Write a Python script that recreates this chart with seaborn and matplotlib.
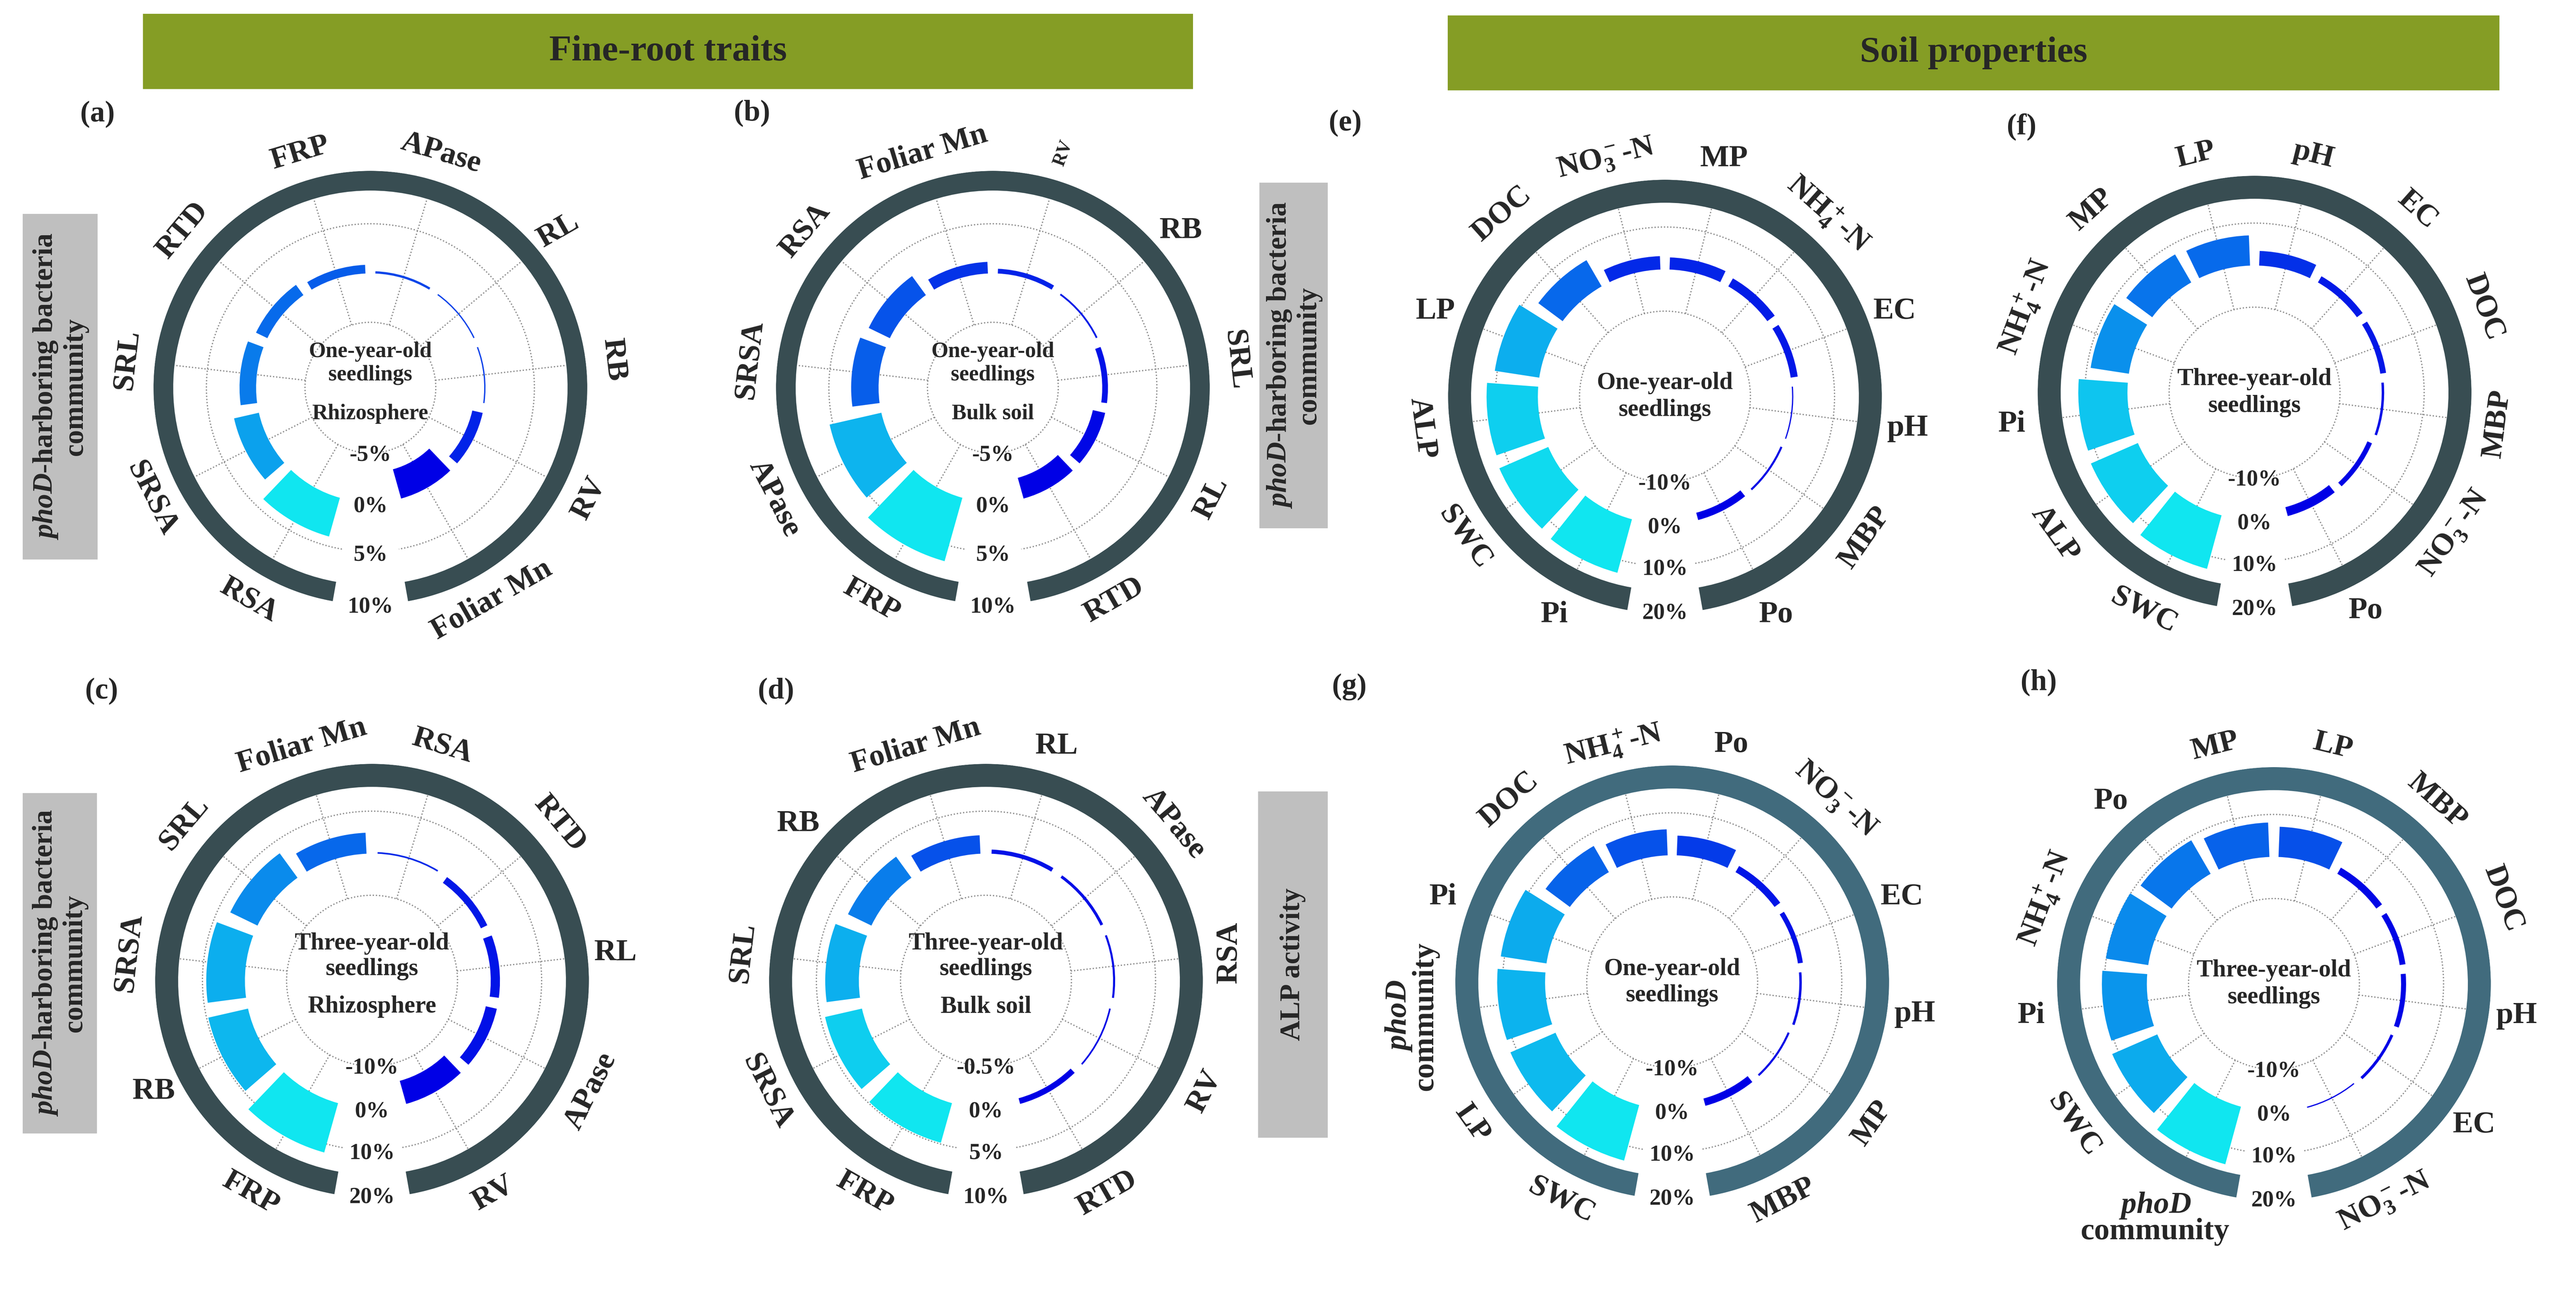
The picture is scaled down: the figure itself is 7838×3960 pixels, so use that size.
import numpy as np
import matplotlib
matplotlib.use("Agg")
import matplotlib.pyplot as plt
from matplotlib.patches import Rectangle
import seaborn as sns

sns.set_style("white")
plt.rcParams["font.family"] = ["Liberation Serif", "DejaVu Serif"]
plt.rcParams["font.weight"] = "bold"
plt.rcParams["mathtext.fontset"] = "custom"
plt.rcParams["mathtext.rm"] = "Liberation Serif:bold"
plt.rcParams["mathtext.it"] = "Liberation Serif:italic:bold"
plt.rcParams["mathtext.bf"] = "Liberation Serif:bold"

NO3 = r"NO$_3^-$-N"
NH4 = r"NH$_4^+$-N"
PHOD = "$phoD$\ncommunity"

# relative changes (%), clockwise from the bottom-left end of each ring
cats_a = ["RSA", "SRSA", "SRL", "RTD", "FRP", "APase", "RL", "RB", "RV", "Foliar Mn"]
vals_a = [4.0, 2.5, 1.6, 1.2, 0.8, 0.15, 0.05, -0.05, -1.0, -3.0]

cats_b = ["FRP", "APase", "SRSA", "RSA", "Foliar Mn", "RV", "RB", "SRL", "RL", "RTD"]
vals_b = [6.6, 5.3, 2.7, 2.3, 1.1, 0.4, 0.1, -0.5, -1.2, -2.1]

cats_c = ["FRP", "RB", "SRSA", "SRL", "Foliar Mn", "RSA", "RTD", "RL", "APase", "RV"]
vals_c = [12.0, 9.5, 9.0, 7.0, 4.8, 0.2, -1.5, -2.0, -2.5, -5.5]

cats_d = ["FRP", "SRSA", "SRL", "RB", "Foliar Mn", "RL", "APase", "RSA", "RV", "RTD"]
vals_d = [4.8, 4.4, 3.9, 3.0, 2.1, 0.4, 0.25, 0.15, -0.1, -0.6]

cats_e = ["Pi", "SWC", "ALP", "LP", "DOC", NO3, "MP", NH4, "EC", "pH", "MBP", "Po"]
vals_e = [13.0, 12.5, 12.0, 10.5, 7.0, 3.0, 2.7, 2.0, 1.5, 0.1, -0.3, -1.6]

cats_f = ["SWC", "ALP", "Pi", NH4, "MP", "LP", "pH", "EC", "DOC", "MBP", NO3, "Po"]
vals_f = [13.0, 12.0, 11.5, 9.0, 7.5, 7.0, 3.3, 1.5, 1.2, 0.4, -1.0, -2.0]

cats_g = ["SWC", "LP", PHOD, "Pi", "DOC", NH4, "Po", NO3, "EC", "pH", "MP", "MBP"]
vals_g = [13.5, 11.5, 11.2, 10.8, 7.0, 6.0, 4.5, 1.5, 1.0, 0.4, -0.3, -1.6]

cats_h = [PHOD, "SWC", "Pi", NH4, "Po", "MP", "LP", "MBP", "DOC", "pH", "EC", NO3]
vals_h = [14.0, 11.5, 10.5, 10.0, 9.0, 8.0, 7.0, 1.5, 1.2, 1.0, 0.5, 0.1]

ticks_root = ["-5%", "0%", "5%", "10%"]
ticks_d = ["-0.5%", "0%", "5%", "10%"]
ticks_soil = ["-10%", "0%", "10%", "20%"]

W, H = 7838, 3960
R = 660
fig = plt.figure(figsize=(W / 500, H / 500), dpi=500)
cmap = sns.blend_palette(["#0000E6", "#10E6F0"], as_cmap=True)
grid_c = "#8C8C8C"
ring_dark = "#384D52"
ring_blue = "#416B7D"

root = dict(k=150, base=349, ring_in=600, fs_c=9.6)
soil = dict(k=128, base=388, ring_in=590, fs_c=10.6)

panels = [
    dict(tag="(a)", tag_xy=(297, 348), xy=(1127, 1180), cats=cats_a, vals=vals_a, step=5, ticks=ticks_root,
         age="One-year-old", site="Rhizosphere", ring=ring_dark, g=root, flat=[], special={"RL": (30, 13.5)}),
    dict(tag="(b)", tag_xy=(2288, 345), xy=(3021, 1180), cats=cats_b, vals=vals_b, step=5, ticks=ticks_root,
         age="One-year-old", site="Bulk soil", ring=ring_dark, g=root, flat=["RB"], special={"RV": (70, 8)}),
    dict(tag="(c)", tag_xy=(309, 2104), xy=(1132, 2985), cats=cats_c, vals=vals_c, step=10, ticks=ticks_soil,
         age="Three-year-old", site="Rhizosphere", ring=ring_dark, g=soil, flat=["RB", "RL"], special={}),
    dict(tag="(d)", tag_xy=(2361, 2104), xy=(3000, 2985), cats=cats_d, vals=vals_d, step=5, ticks=ticks_d,
         age="Three-year-old", site="Bulk soil", ring=ring_dark, g=soil, flat=["RB", "RL"], special={"RSA": (90, 13.5)}),
    dict(tag="(e)", tag_xy=(4093, 375), xy=(5066, 1207), cats=cats_e, vals=vals_e, step=10, ticks=ticks_soil,
         age="One-year-old", site=None, ring=ring_dark, g=soil, flat=["Pi", "LP", "MP", "EC", "pH", "Po"], special={}),
    dict(tag="(f)", tag_xy=(6151, 386), xy=(6860, 1195), cats=cats_f, vals=vals_f, step=10, ticks=ticks_soil,
         age="Three-year-old", site=None, ring=ring_dark, g=soil, flat=["Pi", "Po"], special={}),
    dict(tag="(g)", tag_xy=(4106, 2091), xy=(5088, 2990), cats=cats_g, vals=vals_g, step=10, ticks=ticks_soil,
         age="One-year-old", site=None, ring=ring_blue, g=soil, flat=["Pi", "Po", "EC", "pH"], special={PHOD: (90, 13.5)}),
    dict(tag="(h)", tag_xy=(6203, 2078), xy=(6919, 2995), cats=cats_h, vals=vals_h, step=10, ticks=ticks_soil,
         age="Three-year-old", site=None, ring=ring_blue, g=soil, flat=[PHOD, "Pi", "Po", "pH", "EC"], special={}),
]

for p in panels:
    cx, cy = p["xy"]
    g = p["g"]
    k, base = g["k"], g["base"]
    o = -base / k
    rmax = o + R / k
    ring_in = o + g["ring_in"] / k

    ax = fig.add_axes([(cx - R) / W, 1 - (cy + R) / H, 2 * R / W, 2 * R / H], projection="polar")
    ax.set_theta_zero_location("N")
    ax.set_theta_direction(-1)
    ax.set_rorigin(o)
    ax.set_ylim(-1, rmax)
    ax.axis("off")

    n = len(p["cats"])
    slot = np.deg2rad(334) / n
    theta = np.deg2rad(193) + slot * (np.arange(n) + 0.5)
    vals = np.array(p["vals"])
    t = ((vals - vals.min()) / (vals.max() - vals.min())) ** 1.5
    cols = cmap(t)

    # dotted grid
    arc = np.linspace(np.deg2rad(190), np.deg2rad(530), 400)
    for r in (-1, 1):
        ax.plot(arc, np.full(arc.size, r), color=grid_c, lw=0.55, ls=(0, (1, 1.5)), zorder=1, clip_on=False)
    for th in theta:
        ax.plot([th, th], [-1, ring_in], color=grid_c, lw=0.55, ls=(0, (1, 1.5)), zorder=1, clip_on=False)

    # outer ring and bars
    ax.bar(0, rmax - ring_in, width=np.deg2rad(340), bottom=ring_in, color=p["ring"], linewidth=0, zorder=2)
    ax.bar(theta, vals / p["step"], width=slot * 0.84, bottom=0, color=cols, edgecolor=cols,
           linewidth=0.35, zorder=3)

    # category labels
    for th, c in zip(theta, p["cats"]):
        deg = np.rad2deg(th) % 360
        rot = 180 - deg if 90 < deg < 270 else -deg
        fs = 13.5
        if c in p["flat"]:
            rot = 0
        if c in p["special"]:
            rot, fs = p["special"][c]
        rl = 745 + (55 if "\n" in c else 0)
        ax.text(th, o + rl / k, c, rotation=rot, rotation_mode="anchor", ha="center", va="center",
                fontsize=fs, linespacing=0.9, clip_on=False)

    # scale labels in the gap
    for tl, uu in zip(p["ticks"], [-0.95, 0.09, 1.08, 2.13]):
        ax.text(np.pi, uu, tl, ha="center", va="center", fontsize=10, clip_on=False)

    # centre text
    if p["site"]:
        ax.text(0.5, 0.556, p["age"] + "\nseedlings", transform=ax.transAxes, ha="center", va="center",
                fontsize=g["fs_c"], linespacing=1.2)
        ax.text(0.5, 0.44, p["site"], transform=ax.transAxes, ha="center", va="center", fontsize=g["fs_c"])
    else:
        ax.text(0.5, 0.5, p["age"] + "\nseedlings", transform=ax.transAxes, ha="center", va="center",
                fontsize=g["fs_c"], linespacing=1.25)

    fig.text(p["tag_xy"][0] / W, 1 - p["tag_xy"][1] / H, p["tag"], ha="center", va="center", fontsize=13)

# header bars
for x0, x1, y0, y1, txt in [(435, 3630, 42, 271, "Fine-root traits"), (4405, 7605, 47, 275, "Soil properties")]:
    fig.patches.append(Rectangle((x0 / W, 1 - y1 / H), (x1 - x0) / W, (y1 - y0) / H,
                                 transform=fig.transFigure, facecolor="#859D25", edgecolor="none"))
    fig.text((x0 + x1) / 2 / W, 1 - (y0 + y1) / 2 / H, txt, ha="center", va="center", fontsize=16)

# grey side boxes
side = "$phoD$-harboring bacteria\ncommunity"
for x0, x1, y0, y1, txt in [(69, 297, 651, 1703, side), (69, 295, 2414, 3450, side),
                            (3832, 4040, 556, 1608, side), (3828, 4040, 2409, 3463, "ALP activity")]:
    fig.patches.append(Rectangle((x0 / W, 1 - y1 / H), (x1 - x0) / W, (y1 - y0) / H,
                                 transform=fig.transFigure, facecolor="#BFBFBF", edgecolor="none"))
    fig.text((x0 + x1) / 2 / W, 1 - (y0 + y1) / 2 / H, txt, rotation=90, ha="center", va="center",
             fontsize=12.5, linespacing=1.15, multialignment="center")

fig.savefig("out.png", dpi=500)
